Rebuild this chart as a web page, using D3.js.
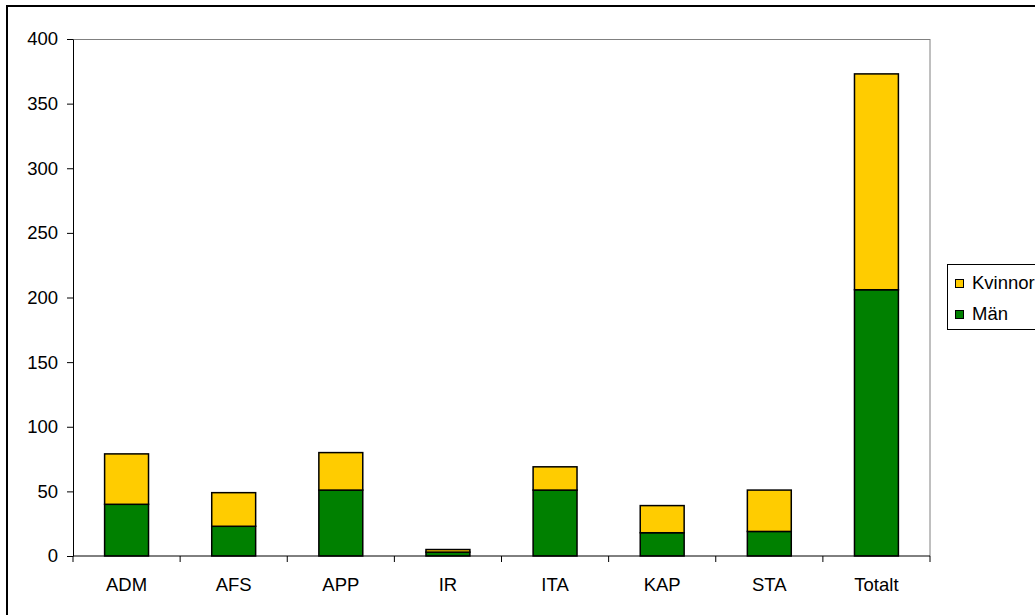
<!DOCTYPE html>
<html>
<head>
<meta charset="utf-8">
<script src="https://cdn.jsdelivr.net/npm/d3@7"></script>
<style>
  body { margin: 0; background: #fff; }
  svg text { font-family: "Liberation Sans", Arial, sans-serif; font-size: 18.5px; fill: #000; }
</style>
</head>
<body>
<svg id="chart" width="1035" height="615"></svg>
<script>
const categories = ['ADM', 'AFS', 'APP', 'IR', 'ITA', 'KAP', 'STA', 'Totalt'];
const men = [40, 23, 51, 3, 51, 18, 19, 206];
const women = [39, 26, 29, 2, 18, 21, 32, 167];
const yTicks = [0, 50, 100, 150, 200, 250, 300, 350, 400];
const seriesNames = ['Män', 'Kvinnor'];
const colors = { 'Män': '#008000', 'Kvinnor': '#ffcc00' };

const svg = d3.select('#chart');
const margin = { top: 39, left: 73 };
const innerW = 930 - margin.left;
const innerH = 556 - margin.top;

// outer frame (right and bottom sit outside the window)
svg.append('rect')
    .attr('x', 7).attr('y', 6)
    .attr('width', 1060).attr('height', 640)
    .attr('fill', 'none').attr('stroke', '#000').attr('stroke-width', 2);

const chart = svg.append('g').attr('transform', `translate(${margin.left},${margin.top})`);

const xscale = d3.scaleBand().domain(categories).range([0, innerW]).paddingInner(0.59).paddingOuter(0.295);
const xbands = d3.scaleBand().domain(categories).range([0, innerW]);
const yscale = d3.scaleLinear().domain([0, 400]).range([innerH, 0]);

// plot area border: top and right grey
chart.append('line').attr('x1', 0).attr('x2', innerW).attr('y1', 0.5).attr('y2', 0.5)
    .attr('stroke', '#808080');
chart.append('line').attr('x1', innerW).attr('x2', innerW).attr('y1', 0).attr('y2', innerH)
    .attr('stroke', '#808080');

const rows = categories.map((c, i) => ({ cat: c, 'Män': men[i], 'Kvinnor': women[i] }));
const stacked = d3.stack().keys(seriesNames)(rows);

chart.selectAll('.series')
    .data(stacked)
    .join('g')
    .attr('class', 'series')
    .attr('fill', d => colors[d.key])
    .selectAll('rect')
    .data(d => d)
    .join('rect')
    .attr('x', d => xscale(d.data.cat))
    .attr('y', d => yscale(d[1]))
    .attr('width', xscale.bandwidth())
    .attr('height', d => yscale(d[0]) - yscale(d[1]))
    .attr('stroke', '#000')
    .attr('stroke-width', 1.5);

// y axis
const yaxis = d3.axisLeft(yscale).tickValues(yTicks).tickSize(6).tickPadding(9).tickSizeOuter(0);
const yg = chart.append('g').call(yaxis);
yg.select('.domain').attr('stroke', '#000');
yg.selectAll('.tick line').attr('stroke', '#000');
yg.selectAll('text').style('font-size', '18.5px').attr('font-family', null);

// x axis with ticks on band boundaries
const xg = chart.append('g').attr('transform', `translate(0,${innerH})`);
xg.append('line').attr('x1', 0).attr('x2', innerW).attr('y1', 0).attr('y2', 0).attr('stroke', '#000');
const bounds = categories.map(c => xbands(c)).concat([innerW]);
xg.selectAll('.xtick')
    .data(bounds)
    .join('line')
    .attr('class', 'xtick')
    .attr('x1', d => d).attr('x2', d => d)
    .attr('y1', 0).attr('y2', 6)
    .attr('stroke', '#000');
xg.selectAll('.xlabel')
    .data(categories)
    .join('text')
    .attr('class', 'xlabel')
    .attr('x', d => xbands(d) + xbands.bandwidth() / 2)
    .attr('y', 35)
    .attr('text-anchor', 'middle')
    .text(d => d);

// legend
const legend = svg.append('g').attr('transform', 'translate(947,264)');
legend.append('rect')
    .attr('x', 0.5).attr('y', 0.5).attr('width', 120).attr('height', 65)
    .attr('fill', '#fff').attr('stroke', '#000');
const legendItems = ['Kvinnor', 'Män'];
legend.selectAll('.item')
    .data(legendItems)
    .join('g')
    .attr('class', 'item')
    .attr('transform', (d, i) => `translate(8,${15 + i * 31})`)
    .each(function(d) {
        const g = d3.select(this);
        g.append('rect').attr('x', 0.5).attr('y', 0.5).attr('width', 8).attr('height', 8)
            .attr('fill', colors[d]).attr('stroke', '#000');
        g.append('text').attr('x', 17).attr('y', 9.5).text(d);
    });
</script>
</body>
</html>
